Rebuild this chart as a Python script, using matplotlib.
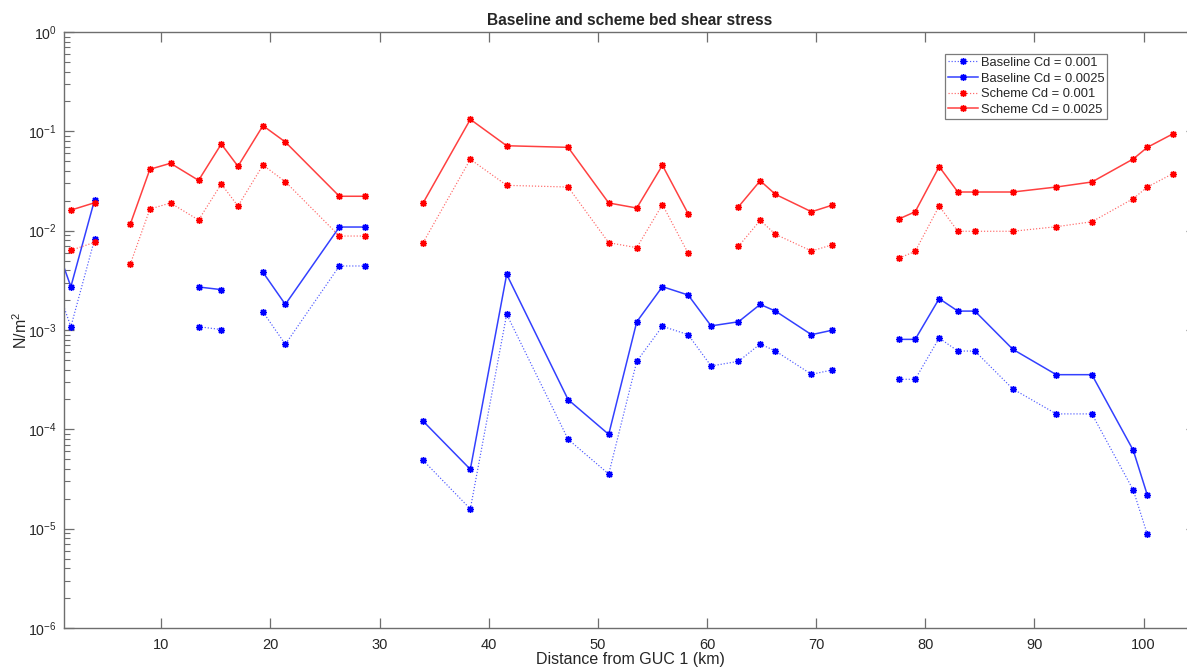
import numpy as np
import matplotlib
matplotlib.use("Agg")
import matplotlib.pyplot as plt
from matplotlib.ticker import FixedLocator, NullFormatter, LogFormatterMathtext

plt.rcParams["font.family"] = ["Liberation Sans", "DejaVu Sans"]
plt.rcParams["mathtext.fontset"] = "custom"
plt.rcParams["mathtext.rm"] = "Liberation Sans"
plt.rcParams["mathtext.it"] = "Liberation Sans:italic"

nan = np.nan

# Distance along the channel (km); stations with no data are NaN in every series
distance_km = [0.0, 1.71, 3.88, 5.5, 7.15, 8.95, 10.84, 13.41, 15.49, 17.02,
               19.31, 21.36, 26.31, 28.69, 31.0, 33.98, 38.31, 41.64, 47.27, 50.99,
               53.56, 55.91, 58.27, 60.37, 62.88, 64.87, 66.27, 69.57, 71.43, 74.5,
               77.63, 79.07, 81.27, 82.98, 84.54, 88.02, 92.0, 95.26, 99.05, 100.34,
               102.66]

baseline_cd_001 = [0.0037, 1.08e-3, 8.18e-3, nan, nan, nan, nan, 1.08e-3, 1.01e-3, nan,
                   1.52e-3, 7.18e-4, 4.41e-3, 4.41e-3, nan, 4.88e-5, 1.58e-5, 1.44e-3, 7.93e-5, 3.55e-5,
                   4.84e-4, 1.09e-3, 8.97e-4, 4.34e-4, 4.84e-4, 7.23e-4, 6.14e-4, 3.58e-4, 3.95e-4, nan,
                   3.19e-4, 3.19e-4, 8.30e-4, 6.14e-4, 6.14e-4, 2.55e-4, 1.43e-4, 1.43e-4, 2.45e-5, 8.77e-6,
                   nan]

baseline_cd_0025 = [0.0092, 2.73e-3, 2.04e-2, nan, nan, nan, nan, 2.71e-3, 2.55e-3, nan,
                    3.81e-3, 1.81e-3, 1.088e-2, 1.088e-2, nan, 1.21e-4, 3.96e-5, 3.63e-3, 1.99e-4, 8.9e-5,
                    1.21e-3, 2.73e-3, 2.25e-3, 1.10e-3, 1.21e-3, 1.81e-3, 1.55e-3, 8.97e-4, 9.93e-4, nan,
                    8.05e-4, 8.05e-4, 2.07e-3, 1.55e-3, 1.55e-3, 6.39e-4, 3.55e-4, 3.55e-4, 6.15e-5, 2.18e-5,
                    nan]

scheme_cd_001 = [nan, 0.00634, 0.00763, nan, 0.00459, 0.0165, 0.0190, 0.0128, 0.0295, 0.0177,
                 0.0458, 0.0311, 0.00883, 0.00883, nan, 0.00757, 0.0523, 0.0286, 0.0275, 0.00757,
                 0.00674, 0.0183, 0.00592, nan, 0.00696, 0.0127, 0.00919, 0.00624, 0.00718, nan,
                 0.00531, 0.00619, 0.0177, 0.00986, 0.00986, 0.00986, 0.01096, 0.0123, 0.0210, 0.0275,
                 0.0374]

scheme_cd_0025 = [nan, 0.0161, 0.0191, nan, 0.0116, 0.0415, 0.0477, 0.0321, 0.0745, 0.0445,
                  0.114, 0.0781, 0.0222, 0.0222, nan, 0.0190, 0.132, 0.0716, 0.0690, 0.0190,
                  0.0169, 0.0455, 0.0148, nan, 0.0174, 0.0318, 0.0232, 0.0155, 0.0180, nan,
                  0.0132, 0.0155, 0.0441, 0.0245, 0.0245, 0.0245, 0.0275, 0.0309, 0.0527, 0.0690,
                  0.0940]

series_labels = ["Baseline Cd = 0.001", "Baseline Cd = 0.0025",
                 "Scheme Cd = 0.001", "Scheme Cd = 0.0025"]
x_ticks = [10, 20, 30, 40, 50, 60, 70, 80, 90, 100]
y_decades = [1e-6, 1e-5, 1e-4, 1e-3, 1e-2, 1e-1, 1e0]

W, H = 1187, 669
fig = plt.figure(figsize=(W / 100, H / 100), dpi=100)
ax = fig.add_axes([64 / W, 1 - 628 / H, (1196 - 64) / W, (628 - 32) / H])

asterisk = (8, 2, 0)
dotted = (0, (1.0, 1.6))
common = dict(marker=asterisk, markersize=5, markeredgewidth=1.0)

ax.plot(distance_km, baseline_cd_001, color=(0.3, 0.35, 1.0), lw=0.85, ls=dotted,
        markeredgecolor="blue", label=series_labels[0], **common)
ax.plot(distance_km, baseline_cd_0025, color=(0.2, 0.25, 1.0), lw=1.1, ls="-",
        markeredgecolor="blue", label=series_labels[1], **common)
ax.plot(distance_km, scheme_cd_001, color=(1.0, 0.4, 0.4), lw=0.85, ls=dotted,
        markeredgecolor="red", label=series_labels[2], **common)
ax.plot(distance_km, scheme_cd_0025, color=(1.0, 0.25, 0.25), lw=1.1, ls="-",
        markeredgecolor="red", label=series_labels[3], **common)

ax.set_yscale("log")
ax.set_ylim(1e-6, 1)
ax.set_xlim(1.08, 104.8)
ax.xaxis.set_major_locator(FixedLocator(x_ticks))
ax.yaxis.set_major_locator(FixedLocator(y_decades))
ax.yaxis.set_major_formatter(LogFormatterMathtext())
minor = [m * d for d in y_decades[:-1] for m in range(2, 10)]
ax.yaxis.set_minor_locator(FixedLocator(minor))
ax.yaxis.set_minor_formatter(NullFormatter())

spine_col = "#6e6e6e"
text_col = "#262626"
for s in ax.spines.values():
    s.set_color(spine_col)
    s.set_linewidth(1.0)
ax.tick_params(which="both", direction="in", top=True, right=True,
               color=spine_col, labelcolor=text_col)
ax.tick_params(axis="x", labelsize=10.5, pad=7)
ax.tick_params(axis="y", labelsize=10.2, pad=5)
ax.tick_params(which="major", length=7, width=0.9)
ax.tick_params(which="minor", length=4, width=0.8)

ax.set_title("Baseline and scheme bed shear stress", fontsize=11.2, fontweight="bold",
             color=text_col, pad=5)
ax.set_xlabel("Distance from GUC 1 (km)", fontsize=11.5, color=text_col, labelpad=0)
ax.set_ylabel("N/m$^2$", fontsize=11.5, color=text_col, labelpad=-1.5)

leg = ax.legend(loc="upper left", bbox_to_anchor=((945 - 64) / 1132, 1 - (54 - 32) / 596),
                borderaxespad=0, fontsize=9.3, frameon=True, fancybox=False,
                handlelength=2.3, handletextpad=0.25, borderpad=0.22, labelspacing=0.28,
                markerscale=1.0)
leg.get_frame().set_edgecolor("#5a5a5a")
leg.get_frame().set_linewidth(0.9)
for t in leg.get_texts():
    t.set_color(text_col)

fig.savefig("out.png", dpi=100)
